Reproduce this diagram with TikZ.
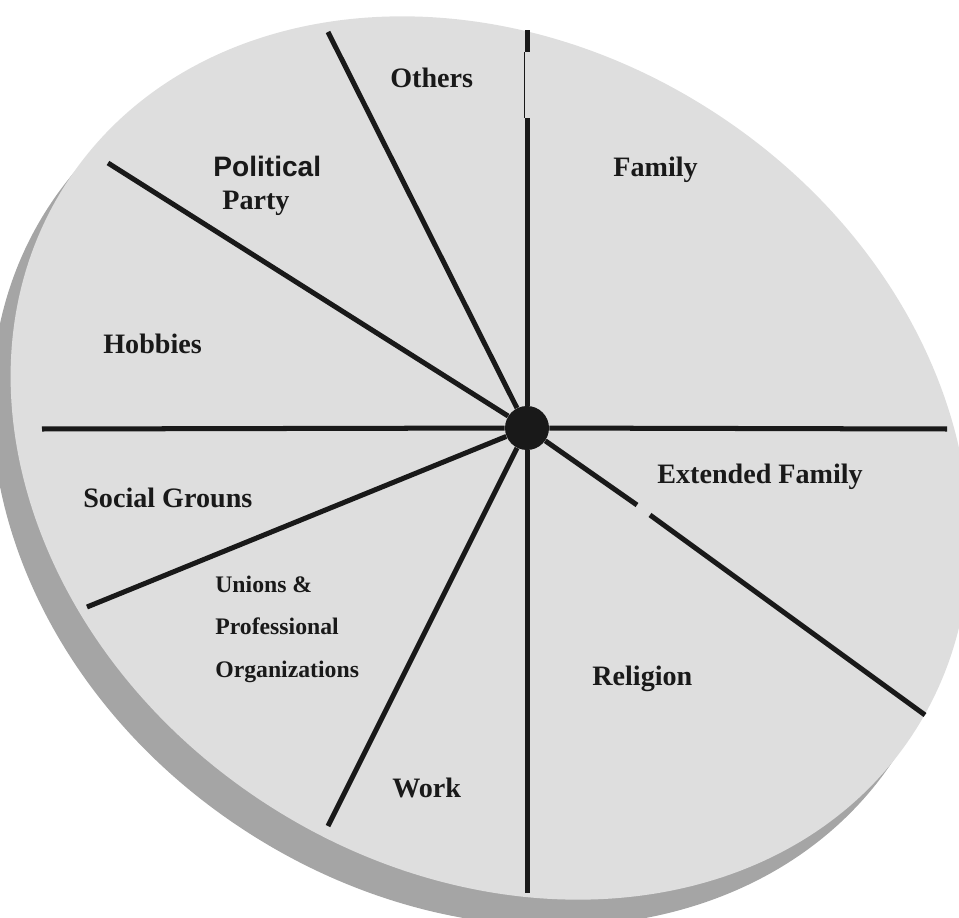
\documentclass[tikz,border=0pt]{standalone}
\usepackage{fontspec}
\setmainfont{Liberation Serif}
\newfontfamily\polfont{Liberation Sans}
\usepackage{tikz}
\definecolor{facegray}{RGB}{222,222,222}
\definecolor{rimgray}{RGB}{165,165,165}
\tikzset{
  spoke/.style={line width=2.85pt, black!90},
  hub/.style={circle, fill=black!90, minimum size=0.88cm, inner sep=0pt},
  lbl/.style={font=\fontsize{16}{19}\selectfont\bfseries, inner sep=0pt, anchor=base west, text=black!90},
  lblsmall/.style={font=\fontsize{13.5}{24}\selectfont\bfseries, inner sep=0pt, anchor=north west, align=left, text=black!90}
}
\begin{document}
\begin{tikzpicture}[x=0.02cm, y=-0.02cm]
    \useasboundingbox (0,0) rectangle (959,918);

    % Rim (shadow below the disc)
    \fill[rimgray, rotate around={-33:(472,482)}] (472,482) ellipse [x radius=505, y radius=416];

    % Disc face
    \fill[facegray, rotate around={-33:(490,458)}] (490,458) ellipse [x radius=505, y radius=412];

    % Hub
    \node[hub] (hub) at (527,428) {};

    % Free ends of the spokes
    \coordinate (nTop)    at (527,118);
    \coordinate (nTopA)   at (527,52);
    \coordinate (nTopB)   at (527,30);
    \coordinate (nOthers) at (328,32);
    \coordinate (nParty)  at (108,163);
    \coordinate (nLeft)   at (42,429);
    \coordinate (nSocial) at (87,607);
    \coordinate (nWork)   at (328,826);
    \coordinate (nBottom) at (527,893);
    \coordinate (nRight)  at (947,429);
    \coordinate (nGapA)   at (637,505);
    \coordinate (nGapB)   at (650,515);
    \coordinate (nExt)    at (925,715);

    % Spokes
    \draw[spoke] (hub) -- (nTop);
    \draw[line width=0.8pt, black!90] ([xshift=-1.5pt]nTop) -- ([xshift=-1.5pt]nTopA);
    \draw[spoke] (nTopA) -- (nTopB);
    \foreach \e in {nOthers, nParty, nLeft, nSocial, nWork, nBottom, nRight, nGapA} {
        \draw[spoke] (hub) -- (\e);
    }
    \draw[spoke] (nGapB) -- (nExt);

    % Sector labels
    \node[lbl] (others)  at (390,88)  {Others};
    \node[lbl] (family)  at (613,177) {Family};
    \node[lbl, font=\fontsize{16}{19}\selectfont\bfseries\polfont] (political) at (213,177) {Political};
    \node[lbl] (party)   at (222,210) {Party};
    \node[lbl] (hobbies) at (103,354) {Hobbies};
    \node[lbl] (social)  at (83,507)  {Social Grouns};
    \node[lbl] (extfam)  at (657,483) {Extended Family};
    \node[lbl] (religion) at (592,685) {Religion};
    \node[lbl] (work)    at (392,797) {Work};
    \node[lblsmall] (unions) at (215,576) {Unions \&\\Professional\\Organizations};
\end{tikzpicture}
\end{document}
